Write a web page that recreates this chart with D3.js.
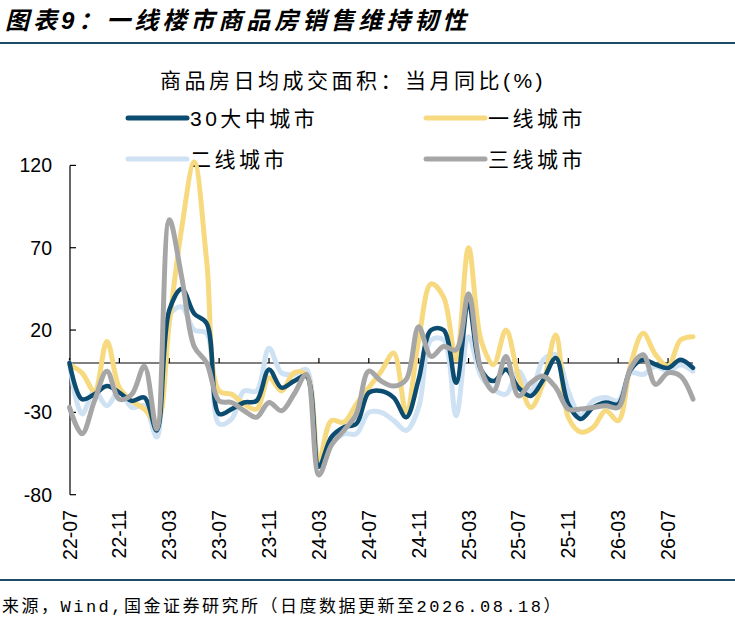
<!DOCTYPE html>
<html>
<head>
<meta charset="utf-8">
<script src="https://cdn.jsdelivr.net/npm/d3@7"></script>
<style>
  body { margin: 0; background: #fff; }
  svg { display: block; }
  text { font-family: "Liberation Sans", Arial, "Noto Sans CJK SC", sans-serif; fill: #000; }
  .cjk { font-family: "Liberation Sans", "Noto Sans CJK SC", sans-serif; }
  .src { font-family: "Liberation Mono", "Noto Sans CJK SC", monospace; }
</style>
</head>
<body>
<svg id="chart" width="735" height="617"></svg>
<script>
// months on the category axis (index 0 = 22-07)
const months = [
  "22-07","22-08","22-09","22-10","22-11","22-12",
  "23-01","23-02","23-03","23-04","23-05","23-06","23-07","23-08","23-09","23-10","23-11","23-12",
  "24-01","24-02","24-03","24-04","24-05","24-06","24-07","24-08","24-09","24-10","24-11","24-12",
  "25-01","25-02","25-03","25-04","25-05","25-06","25-07","25-08","25-09","25-10","25-11","25-12",
  "26-01","26-02","26-03","26-04","26-05","26-06","26-07","26-08","26-09"
];
const tickLabels = ["22-07","22-11","23-03","23-07","23-11","24-03","24-07","24-11","25-03","25-07","25-11","26-03","26-07"];
const yTicks = [-80, -30, 20, 70, 120];

// 30大中城市
const city30 = [
  0, -22, -19, -14, -18, -23, -21, -41, 32, 45, 30, 24, -31, -28, -24, -23, -4, -15,
  -11, -8, -63, -45, -39, -37, -18, -17, -21, -33, -10, 20, 20, -12, 36, -4, -11, -4,
  -15, -20, -10, 3, -25, -34, -27, -24, -25, -4, 2, -1, -3, 2, -3
];
// 一线城市
const tier1 = [
  -1, -6, -17, 13, -15, -23, -28, -36, 24, 82, 122, 62, -17, -19, -25, -28, -9, -17,
  -6, -7, -59, -35, -36, -25, -15, -5, 6, -30, 14, 48, 40, 2, 70, 14, -1, 20,
  -8, -27, -12, 17, -33, -42, -39, -29, -35, -1, 18, 5, -2, 14, 16
];
// 二线城市
const tier2 = [
  0, -31, -17, -26, -17, -27, -26, -45, 29, 34, 20, 18, -37, -34, -17, -17, 9, -6,
  -7, -4, -61, -49, -43, -43, -30, -30, -35, -41, -27, 14, 14, -32, 16, -8, -16, -19,
  -5, -17, 2, 5, -17, -32, -23, -21, -23, -6, -7, -2, -5, -1, -5
];
// 三线城市
const tier3 = [
  -27, -43, -23, -5, -22, -19, -2, -40, 87, 52, 10, 0, -23, -24, -29, -33, -24, -29,
  -19, -7, -68, -50, -41, -31, -5, -11, -14, -10, 22, 4, 10, 8, 42, -4, -17, 4,
  -20, -12, -8, -15, -28, -28, -27, -26, -27, -3, 5, -13, -6, -8, -22
];

const series = [
  { name: "30大中城市", values: city30, color: "#0b4c70", width: 4.5 },
  { name: "一线城市", values: tier1, color: "#f7da7f", width: 5 },
  { name: "二线城市", values: tier2, color: "#cfe2f3", width: 5 },
  { name: "三线城市", values: tier3, color: "#a6a6a6", width: 5 }
];
// back-to-front drawing order
const drawOrder = ["二线城市", "一线城市", "30大中城市", "三线城市"];

const svg = d3.select("#chart");

// header
svg.append("text")
  .attr("x", 5).attr("y", 29)
  .attr("class", "cjk")
  .style("font-size", "24px").style("font-weight", "bold").style("font-style", "italic")
  .style("letter-spacing", "4px")
  .text("图表9：一线楼市商品房销售维持韧性");
svg.append("line")
  .attr("x1", 0).attr("x2", 735).attr("y1", 43).attr("y2", 43)
  .attr("stroke", "#1c4b68").attr("stroke-width", 2);

svg.append("text")
  .attr("x", 353).attr("y", 80)
  .attr("text-anchor", "middle").attr("dominant-baseline", "central")
  .attr("class", "cjk")
  .style("font-size", "21px").style("letter-spacing", "3.5px")
  .text("商品房日均成交面积：当月同比(%)");

// legend (2 x 2)
const legendPos = [
  { x: 128, y: 118 }, { x: 426, y: 118 },
  { x: 128, y: 159 }, { x: 426, y: 159 }
];
series.forEach((s, i) => {
  const p = legendPos[i];
  svg.append("line")
    .attr("x1", p.x).attr("x2", p.x + 59).attr("y1", p.y).attr("y2", p.y)
    .attr("stroke", s.color).attr("stroke-width", 5).attr("stroke-linecap", "round");
  svg.append("text")
    .attr("x", p.x + 62).attr("y", p.y)
    .attr("dominant-baseline", "central")
    .attr("class", "cjk")
    .style("font-size", "21px").style("letter-spacing", "3.5px")
    .text(s.name);
});

// scales
const x_scale = d3.scaleLinear().domain([0, months.length - 1]).range([69.5, 693]);
const y_scale = d3.scaleLinear().domain([-80, 120]).range([494.7, 165.4]);

// y axis: line, inward ticks, labels
svg.append("line")
  .attr("x1", 70).attr("x2", 70)
  .attr("y1", y_scale(120)).attr("y2", y_scale(-80))
  .attr("stroke", "#000").attr("stroke-width", 1.2);
svg.selectAll("line.ytick")
  .data(yTicks).enter().append("line")
  .attr("class", "ytick")
  .attr("x1", 70).attr("x2", 76)
  .attr("y1", d => y_scale(d)).attr("y2", d => y_scale(d))
  .attr("stroke", "#000").attr("stroke-width", 1.2);
svg.selectAll("text.ylab")
  .data(yTicks).enter().append("text")
  .attr("class", "ylab")
  .attr("x", 52).attr("y", d => y_scale(d))
  .attr("text-anchor", "end").attr("dominant-baseline", "central")
  .style("font-size", "19.5px")
  .text(d => d);

// x axis along zero line
svg.append("line")
  .attr("x1", 70).attr("x2", x_scale(months.length - 1))
  .attr("y1", y_scale(0)).attr("y2", y_scale(0))
  .attr("stroke", "#000").attr("stroke-width", 1.2);
svg.selectAll("line.xtick")
  .data(tickLabels).enter().append("line")
  .attr("class", "xtick")
  .attr("x1", d => x_scale(months.indexOf(d))).attr("x2", d => x_scale(months.indexOf(d)))
  .attr("y1", y_scale(0)).attr("y2", y_scale(0) - 5)
  .attr("stroke", "#000").attr("stroke-width", 1.2);
svg.selectAll("text.xlab")
  .data(tickLabels).enter().append("text")
  .attr("class", "xlab")
  .attr("transform", d => `translate(${x_scale(months.indexOf(d))},510) rotate(-90)`)
  .attr("text-anchor", "end").attr("dominant-baseline", "central")
  .style("font-size", "19.5px")
  .text(d => d);

// lines
const lineGenerator = d3.line()
  .x((d, i) => x_scale(i))
  .y(d => y_scale(d))
  .curve(d3.curveCatmullRom.alpha(0.5));

drawOrder.forEach(name => {
  const s = series.find(t => t.name === name);
  svg.append("path")
    .datum(s.values)
    .attr("d", lineGenerator)
    .attr("fill", "none")
    .attr("stroke", s.color)
    .attr("stroke-width", s.width)
    .attr("stroke-linejoin", "round")
    .attr("stroke-linecap", "round");
});

// footer
svg.append("line")
  .attr("x1", 0).attr("x2", 735).attr("y1", 580).attr("y2", 580)
  .attr("stroke", "#1c4b68").attr("stroke-width", 2);
svg.append("text")
  .attr("x", 2).attr("y", 607)
  .attr("dominant-baseline", "central")
  .attr("class", "src")
  .style("font-size", "17px").style("letter-spacing", "2.5px")
  .text("来源，Wind,国金证券研究所（日度数据更新至2026.08.18）");
</script>
</body>
</html>
